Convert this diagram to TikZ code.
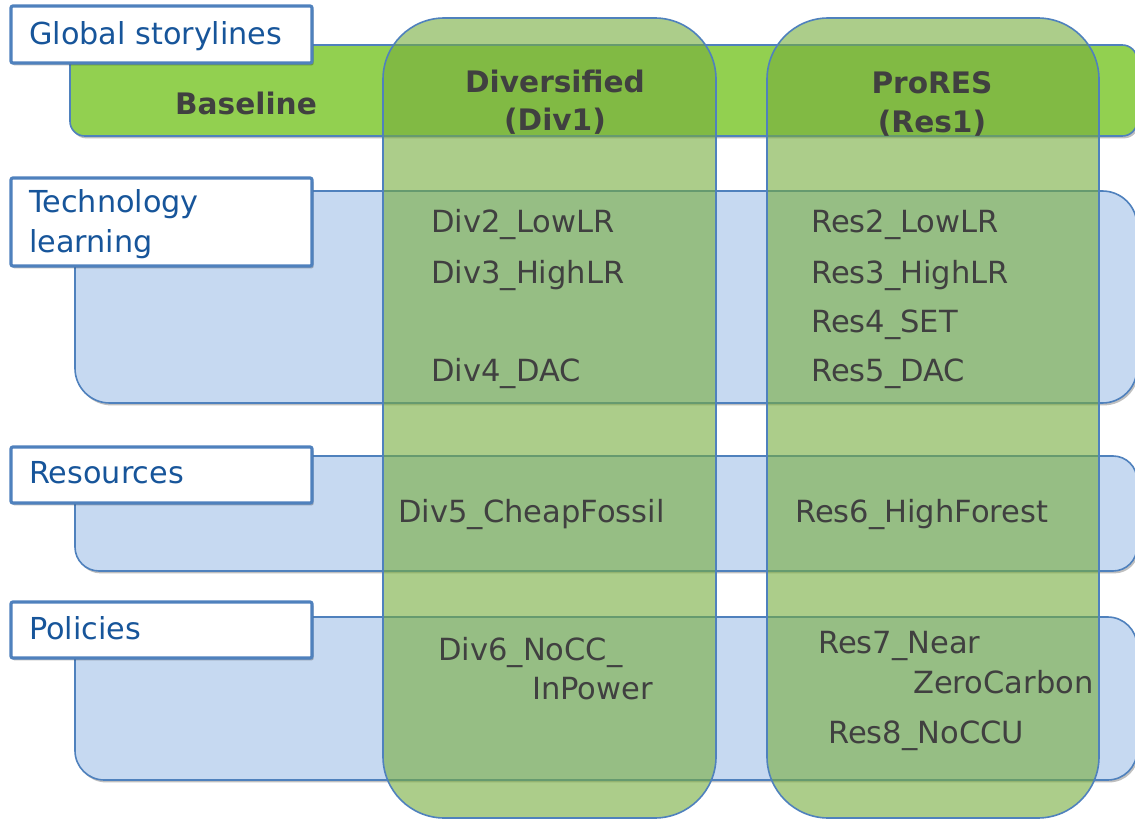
\documentclass[tikz,border=0pt]{standalone}
\usepackage{fontspec}
\setmainfont{DejaVu Sans}
\usetikzlibrary{shadows}
\definecolor{bandgreen}{HTML}{92D050}
\definecolor{bandblue}{HTML}{C6D9F1}
\definecolor{edgeblue}{HTML}{4F81BD}
\definecolor{colgreen}{RGB}{118,172,60}
\definecolor{labeltext}{HTML}{17559A}
\definecolor{bodytext}{HTML}{404040}
\begin{document}
\begin{tikzpicture}[x=0.75pt,y=-0.75pt,
  shade/.style={drop shadow={shadow xshift=1.2pt,shadow yshift=-1.8pt,opacity=0.25,fill=black}},
  greenband/.style={fill=bandgreen,draw=edgeblue,line width=1.2pt,rounded corners=11pt,shade},
  blueband/.style={fill=bandblue,draw=edgeblue,line width=1.2pt,shade},
  labelbox/.style={fill=white,draw=edgeblue,line width=2.4pt,rounded corners=1.5pt,shade},
  column/.style={fill=colgreen,fill opacity=0.6,draw=edgeblue,line width=1.2pt,rounded corners=46pt},
  labeltxt/.style={anchor=base west,inner sep=0pt,text=labeltext,font=\fontsize{22.7}{30}\selectfont},
  bodytxt/.style={anchor=base west,inner sep=0pt,text=bodytext,font=\fontsize{22.9}{30}\selectfont},
  titletxt/.style={anchor=base,inner sep=0pt,text=bodytext,font=\fontsize{22.2}{30}\selectfont\bfseries}
]
\useasboundingbox (0,0) rectangle (1135,820);
\fill[white] (0,0) rectangle (1135,820);

% bands
\draw[greenband] (70,45) rectangle (1137,136);
\draw[blueband,rounded corners=26pt] (75,191) rectangle (1137,403);
\draw[blueband,rounded corners=18pt] (75,456) rectangle (1137,571);
\draw[blueband,rounded corners=22pt] (75,617) rectangle (1137,780);

% label boxes
\draw[labelbox] (11,6) rectangle (312,63);
\draw[labelbox] (11,178) rectangle (312,266);
\draw[labelbox] (11,447) rectangle (312,503);
\draw[labelbox] (11,602) rectangle (312,658);

\node[labeltxt] (lglobal) at (29,45) {Global storylines};
\node[labeltxt] (ltech1) at (29,213) {Technology};
\node[labeltxt] (ltech2) at (29,252) {learning};
\node[labeltxt] (lres) at (29,483) {Resources};
\node[labeltxt] (lpol) at (29,639) {Policies};

% columns
\draw[column] (383,18) rectangle (716,818);
\draw[column] (767,18) rectangle (1099,818);

% titles
\node[titletxt] (baseline) at (246,115) {Baseline};
\node[titletxt] (div1a) at (555,93) {Diversified};
\node[titletxt] (div1b) at (555,131) {(Div1)};
\node[titletxt] (res1a) at (932,94) {ProRES};
\node[titletxt] (res1b) at (932,133) {(Res1)};

% Diversified column
\node[bodytxt] (div2) at (431,233) {Div2\_LowLR};
\node[bodytxt] (div3) at (431,283) {Div3\_HighLR};
\node[bodytxt] (div4) at (431,381) {Div4\_DAC};
\node[bodytxt] (div5) at (398,522) {Div5\_CheapFossil};
\node[bodytxt] (div6a) at (438,660) {Div6\_NoCC\_};
\node[bodytxt] (div6b) at (532,699) {InPower};

% ProRES column
\node[bodytxt] (res2) at (811,233) {Res2\_LowLR};
\node[bodytxt] (res3) at (811,283) {Res3\_HighLR};
\node[bodytxt] (res4) at (811,332) {Res4\_SET};
\node[bodytxt] (res5) at (811,381) {Res5\_DAC};
\node[bodytxt] (res6) at (795,522) {Res6\_HighForest};
\node[bodytxt] (res7a) at (818,653) {Res7\_Near};
\node[bodytxt] (res7b) at (913,693) {ZeroCarbon};
\node[bodytxt] (res8) at (828,743) {Res8\_NoCCU};
\end{tikzpicture}
\end{document}
